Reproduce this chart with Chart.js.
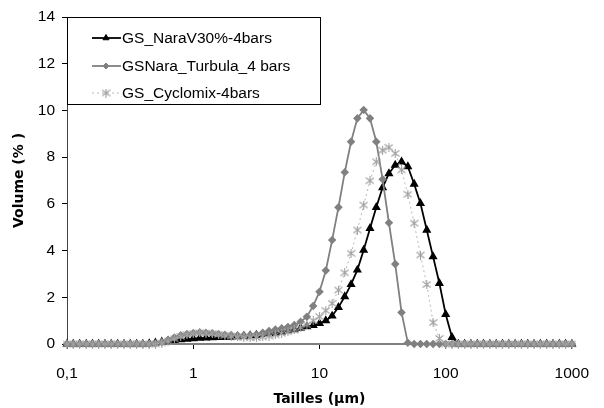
<!DOCTYPE html>
<html>
<head>
<meta charset="utf-8">
<script src="https://cdn.jsdelivr.net/npm/chart.js@4.4.1/dist/chart.umd.min.js"></script>
<style>
  html, body { margin: 0; padding: 0; background: #fff; }
  canvas { display: block; }
</style>
</head>
<body>
<canvas id="c" width="604" height="408"></canvas>
<script>
// Particle sizes (µm), log-spaced bins
const sizes = [0.100,0.112,0.126,0.142,0.159,0.178,0.200,0.224,0.252,0.283,
  0.317,0.356,0.399,0.448,0.502,0.564,0.632,0.710,0.796,0.893,
  1.002,1.125,1.262,1.416,1.589,1.783,2.000,2.244,2.518,2.825,
  3.170,3.557,3.991,4.477,5.024,5.637,6.325,7.096,7.962,8.934,
  10.024,11.247,12.619,14.159,15.887,17.825,20.000,22.440,25.179,28.251,
  31.698,35.566,39.905,44.774,50.238,56.368,63.246,70.963,79.621,89.337,
  100.237,112.468,126.191,141.589,158.866,178.250,200.000,224.404,251.785,282.508,
  316.979,355.656,399.052,447.744,502.377,563.677,632.456,709.627,796.214,893.367,
  1002.374];

// Volume (%) per bin
const naraV30 = [0,0,0,0,0,0,0,0,0,0,
  0,0,0,0.02,0.05,0.09,0.13,0.16,0.19,0.21,
  0.23,0.25,0.26,0.27,0.28,0.29,0.30,0.32,0.34,0.36,
  0.38,0.41,0.44,0.48,0.52,0.57,0.62,0.68,0.74,0.80,
  0.88,1.00,1.20,1.57,2.03,2.55,3.17,4.02,4.95,5.85,
  6.70,7.30,7.66,7.80,7.60,6.85,6.02,4.88,3.74,2.60,
  1.27,0.29,0,0,0,0,0,0,0,0,
  0,0,0,0,0,0,0,0,0,0,
  0];

const turbula = [0,0,0,0,0,0,0,0,0,0,
  0,0,0,0,0.02,0.08,0.18,0.28,0.37,0.43,
  0.47,0.49,0.48,0.46,0.43,0.40,0.38,0.37,0.37,0.38,
  0.41,0.48,0.56,0.62,0.67,0.73,0.81,0.95,1.17,1.63,
  2.24,3.15,4.45,5.85,7.35,8.66,9.66,10.02,9.66,8.66,
  7.05,5.19,3.42,1.35,0.05,0,0,0,0,0,
  0,0,0,0,0,0,0,0,0,0,
  0,0,0,0,0,0,0,0,0,0,
  0];

const cyclomix = [0,0,0,0,0,0,0,0,0,0,
  0,0,0,0,0,0.04,0.12,0.22,0.32,0.40,
  0.45,0.48,0.47,0.45,0.41,0.37,0.33,0.30,0.28,0.27,
  0.28,0.30,0.34,0.39,0.45,0.52,0.60,0.70,0.82,1.00,
  1.17,1.43,1.74,2.31,3.05,3.88,4.88,5.95,6.99,7.80,
  8.30,8.42,8.16,7.45,6.41,5.17,3.81,2.55,0.92,0.24,
  0,0,0,0,0,0,0,0,0,0,
  0,0,0,0,0,0,0,0,0,0,
  0];

const seriesLabels = ['GS_NaraV30%-4bars', 'GSNara_Turbula_4 bars', 'GS_Cyclomix-4bars'];
const xTickValues = [0.1, 1, 10, 100, 1000];
const xTickLabels = ['0,1', '1', '10', '100', '1000'];
const yTickValues = [0, 2, 4, 6, 8, 10, 12, 14];
const xTitle = 'Tailles (µm)';
const yTitle = 'Volume (% )';

// asterisk marker
function makeAsterisk(color) {
  const s = 9;
  const c = document.createElement('canvas');
  c.width = s; c.height = s;
  const g = c.getContext('2d');
  g.strokeStyle = color; g.lineWidth = 1.1;
  g.beginPath();
  g.moveTo(4.5, 0); g.lineTo(4.5, 9);
  g.moveTo(0.5, 1.5); g.lineTo(8.5, 7.5);
  g.moveTo(8.5, 1.5); g.lineTo(0.5, 7.5);
  g.stroke();
  return c;
}
const asterisk = makeAsterisk('#a0a0a0');

const toPts = arr => sizes.map((s, i) => ({ x: s, y: arr[i] }));

const legendPlugin = {
  id: 'boxLegend',
  afterDraw(chart) {
    const ctx = chart.ctx;
    const x0 = 67.5, y0 = 17.5, w = 253, h = 87;
    ctx.save();
    ctx.fillStyle = '#fff';
    ctx.fillRect(x0, y0, w, h);
    ctx.strokeStyle = '#000';
    ctx.lineWidth = 1;
    ctx.strokeRect(x0, y0, w, h);
    const rows = [38, 66, 93];
    chart.data.datasets.forEach((ds, i) => {
      const y = rows[i];
      ctx.beginPath();
      ctx.setLineDash(ds.borderDash || []);
      ctx.strokeStyle = ds.borderColor;
      ctx.lineWidth = ds.borderWidth;
      ctx.moveTo(92, y); ctx.lineTo(121, y);
      ctx.stroke();
      ctx.setLineDash([]);
      ctx.fillStyle = ds.pointBackgroundColor;
      ctx.strokeStyle = ds.pointBorderColor;
      ctx.lineWidth = 1;
      Chart.helpers.drawPoint(ctx, { pointStyle: ds.pointStyle, radius: ds.pointRadius, rotation: 0, borderWidth: 1 }, 106, y);
      ctx.fillStyle = '#000';
      ctx.font = '15.5px "Liberation Sans"';
      ctx.textBaseline = 'middle';
      ctx.textAlign = 'left';
      ctx.fillText(ds.label, 122, y + 1);
    });
    ctx.restore();
  }
};

new Chart(document.getElementById('c'), {
  type: 'line',
  data: {
    datasets: [
      {
        label: seriesLabels[0], data: toPts(naraV30),
        borderColor: '#000', borderWidth: 1.8,
        pointStyle: 'triangle', pointRadius: 3.5,
        pointBackgroundColor: '#000', pointBorderColor: '#000',
        clip: false, order: 3, tension: 0
      },
      {
        label: seriesLabels[1], data: toPts(turbula),
        borderColor: '#808080', borderWidth: 1.8,
        pointStyle: 'rectRot', pointRadius: 3,
        pointBackgroundColor: '#808080', pointBorderColor: '#808080',
        clip: false, order: 2, tension: 0
      },
      {
        label: seriesLabels[2], data: toPts(cyclomix),
        borderColor: '#b8b8b8', borderWidth: 1, borderDash: [2, 3],
        pointStyle: asterisk, pointRadius: 4.5,
        pointBackgroundColor: '#a0a0a0', pointBorderColor: '#a0a0a0',
        clip: false, order: 1, tension: 0
      }
    ]
  },
  options: {
    responsive: false,
    animation: false,
    devicePixelRatio: 1,
    layout: { padding: { left: 0, right: 20, top: 17, bottom: 0 } },
    plugins: { legend: { display: false }, tooltip: { enabled: false } },
    scales: {
      x: {
        type: 'logarithmic',
        min: 0.1, max: 1000,
        afterFit: s => { s.height = 64; },
        afterBuildTicks: s => { s.ticks = xTickValues.map(v => ({ value: v })); },
        ticks: {
          autoSkip: false, maxRotation: 0, padding: 15,
          color: '#000', font: { family: 'Liberation Sans', size: 15.5 },
          callback: (v) => { const i = xTickValues.indexOf(v); return i >= 0 ? xTickLabels[i] : ''; }
        },
        grid: { drawOnChartArea: false, drawTicks: true, tickLength: 5, color: '#000' },
        border: { display: true, color: '#808080', width: 2 },
        title: { display: true, text: xTitle, color: '#000', font: { family: 'DejaVu Sans', size: 14, weight: 'bold' }, padding: { top: 0, bottom: 0 } }
      },
      y: {
        min: 0, max: 14,
        afterFit: s => { s.width = 67; },
        afterBuildTicks: s => { s.ticks = yTickValues.map(v => ({ value: v })); },
        ticks: {
          padding: 7, color: '#000', font: { family: 'Liberation Sans', size: 15.5 }
        },
        grid: { drawOnChartArea: false, drawTicks: true, tickLength: 5, color: '#000' },
        border: { display: true, color: '#404040', width: 1 },
        title: { display: true, text: yTitle, color: '#000', font: { family: 'DejaVu Sans', size: 14, weight: 'bold' }, padding: { top: 11, bottom: 0 } }
      }
    }
  },
  plugins: [legendPlugin]
});
</script>
</body>
</html>
